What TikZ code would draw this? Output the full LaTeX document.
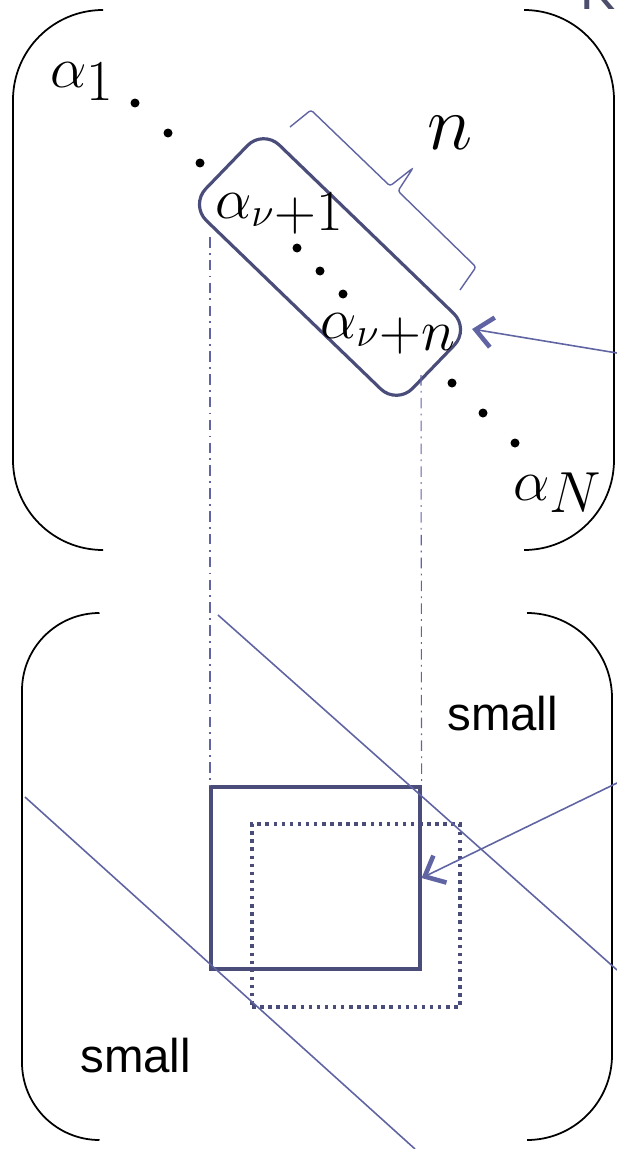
\RequirePackage{fix-cm}
\documentclass[tikz,border=0pt]{standalone}
\usepackage{amsmath,amssymb}
\usepackage{fontspec}
\newfontfamily\hfont{Liberation Sans}
\usepackage{xcolor}
\usepackage{tikz}
\usetikzlibrary{positioning,arrows.meta,calc}
\definecolor{boxblue}{RGB}{74,76,122}
\definecolor{lineblue}{RGB}{96,100,162}
\definecolor{ktext}{RGB}{76,78,108}
\newcommand{\lowsub}[1]{\raisebox{-0.22em}{$#1$}}

\begin{document}
\begin{tikzpicture}[
    x=0.02cm, y=-0.02cm,
    paren/.style={draw=black, line width=1pt},
    albl/.style={inner sep=0pt, font=\fontsize{33}{36}\selectfont},
    dot/.style={circle, fill=black, inner sep=0pt, minimum size=0.18cm},
    guide/.style={draw=lineblue, line width=0.6pt, dash pattern=on 6pt off 3pt on 1pt off 3pt},
    diag/.style={draw=lineblue, line width=0.9pt},
    pointer/.style={draw=lineblue, line width=0.9pt,
                    -{Straight Barb[length=3.4mm, width=6mm, line width=2.6pt]}},
    word/.style={inner sep=0pt, font=\hfont\fontsize{27}{30}\selectfont},
  ]
    \useasboundingbox (0,0) rectangle (617,1149);

    % parentheses
    \draw[paren, rounded corners=1.8cm] (103,10) -| (13,550) -- (103,550);
    \draw[paren, rounded corners=1.8cm] (527,10) -| (614,550) -- (527,550);
    \draw[paren, rounded corners=1.55cm] (97,613) -| (22,1140) -- (97,1140);
    \draw[paren, rounded corners=1.7cm] (527,613) -| (612,1140) -- (527,1140);

    \node[anchor=base west, inner sep=0pt, text=ktext,
          font=\hfont\fontsize{30}{32}\selectfont] (title) at (580,10) {Krylov};

    % sequence of alphas
    \node[albl, anchor=base west] (a1) at (50,88) {$\alpha\lowsub{1}$};
    \node[albl, anchor=base west] (aN) at (513,500) {$\alpha\lowsub{N}$};
    \foreach \px/\py [count=\i] in {135/103, 168/133, 200/163, 297/248, 320/271, 343/294,
                                   452/383, 483/413, 515/443}
      \node[dot] (d\i) at (\px,\py) {};

    % window of n values
    \node[draw=boxblue, line width=1.8pt, rounded corners=0.45cm, rotate=-44,
          minimum width=5.75cm, minimum height=2.1cm] (grp) at (330,267) {};
    \node[albl, anchor=base west] (anu1) at (215,218) {$\alpha_{\nu}\lowsub{+1}$};
    \node[albl, anchor=base west] (anun) at (320,338) {$\alpha_{\nu}\lowsub{+n}$};
    \draw[lineblue, line width=0.8pt, rounded corners=1.5pt]
      (290,127) -- (311,110) -- (390,186) -- (413,168) -- (398,191)
      -- (476,267) -- (460,290);
    \node[anchor=base west, inner sep=0pt, font=\fontsize{44}{46}\selectfont]
      (nlbl) at (427,150) {$n$};

    % projection guides
    \node[draw=boxblue, line width=1.8pt, minimum width=4.18cm, minimum height=3.64cm,
          inner sep=0pt] (win) at (315.5,878) {};
    \node[draw=boxblue, line width=2pt, dash pattern=on 2pt off 2.6pt,
          minimum width=4.16cm, minimum height=3.66cm, inner sep=0pt] (shift) at (356,915.5) {};
    \coordinate (gl) at (210,237);
    \coordinate (gr) at (421,375);
    \draw[guide] (gl) -- (gl |- win.north);
    \draw[guide] (gr) -- (win.north east);

    % diagonals
    \coordinate (u1) at (218,615);
    \coordinate (u2) at (617,970);
    \coordinate (v1) at (25,797);
    \coordinate (v2) at (415,1149);
    \draw[diag] (u1) -- (u2);
    \draw[diag] (v1) -- (v2);

    \node[word, anchor=base west] (sm1) at (447,730) {small};
    \node[word, anchor=base west] (sm2) at (80,1072) {small};

    % pointers
    \coordinate (srcA) at (617,353);
    \coordinate (srcB) at (617,783);
    \draw[pointer] (srcA) -- (grp.north east);
    \draw[pointer] (srcB) -- (win.east);
  \end{tikzpicture}
\end{document}
